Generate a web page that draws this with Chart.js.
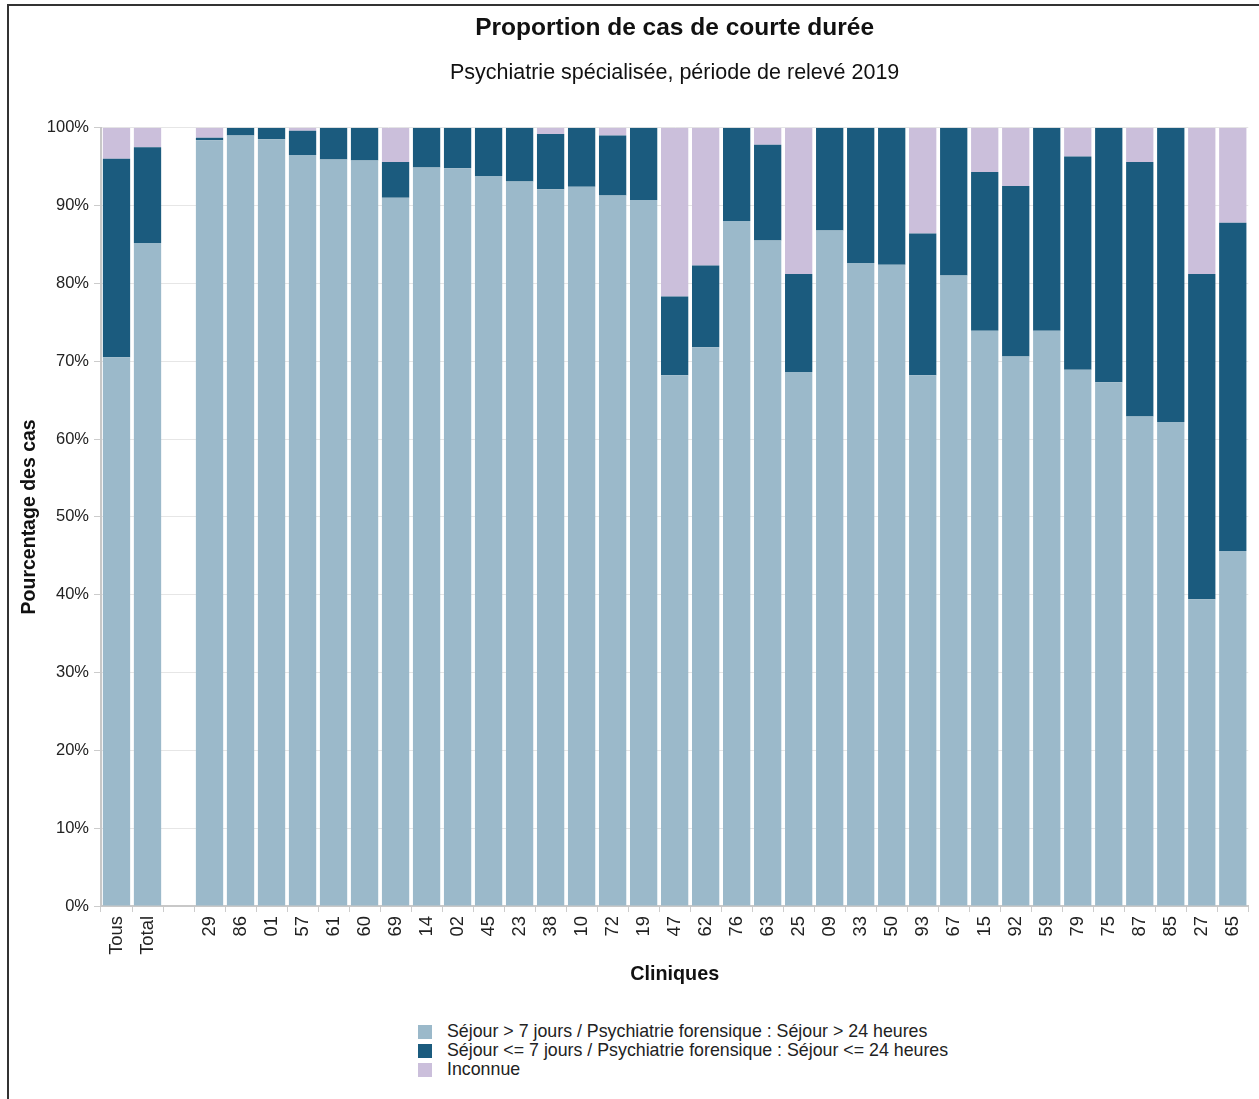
<!DOCTYPE html>
<html>
<head>
<meta charset="utf-8">
<script src="https://cdn.jsdelivr.net/npm/chart.js@4/dist/chart.umd.min.js"></script>
<style>
    body { margin: 0; background: #fff; overflow: hidden; font-family: "Liberation Sans", Arial, sans-serif; }
    #frame { position: absolute; left: 7px; top: 4px; width: 1260px; height: 1100px; border-left: 2px solid #333; border-top: 2px solid #333; }
    #wrap { position: absolute; left: 9px; top: 6px; width: 1250px; height: 988px; }
    #legend { position: absolute; left: 418px; top: 1022px; font-size: 17.8px; color: #222; }
    #legend div { display: flex; align-items: center; height: 19px; }
    #legend span.box { display: inline-block; width: 14px; height: 14px; margin-right: 15px; }
</style>
</head>
<body>
<div id="frame"></div>
<div id="wrap"><canvas id="chart"></canvas></div>
<div id="legend"></div>
<script>
const cliniques = ["Tous", "Total", "", "29", "86", "01", "57", "61", "60", "69", "14", "02", "45", "23", "38", "10", "72", "19",
    "47", "62", "76", "63", "25", "09", "33", "50", "93", "67", "15", "92", "59", "79", "75", "87", "85", "27", "65"];

// Séjour > 7 jours (bas de la barre)
const sejourLong = [70.5, 85.2, null, 98.4, 99.0, 98.5, 96.5, 95.9, 95.8, 91.0, 94.9, 94.8, 93.8, 93.1, 92.1, 92.4, 91.3, 90.7,
    68.2, 71.8, 88.0, 85.5, 68.6, 86.8, 82.6, 82.4, 68.2, 81.0, 73.9, 70.6, 73.9, 68.9, 67.3, 62.9, 62.2, 39.4, 45.6];

// Séjour <= 7 jours
const sejourCourt = [25.5, 12.3, null, 0.3, 1.0, 1.5, 3.1, 4.1, 4.2, 4.6, 5.1, 5.2, 6.2, 6.9, 7.1, 7.6, 7.7, 9.3,
    10.1, 10.5, 12.0, 12.3, 12.6, 13.2, 17.4, 17.6, 18.2, 19.0, 20.4, 21.9, 26.1, 27.4, 32.7, 32.7, 37.8, 41.8, 42.2];

// Inconnue
const inconnue = [4.0, 2.5, null, 1.3, 0, 0, 0.4, 0, 0, 4.4, 0, 0, 0, 0, 0.8, 0, 1.0, 0,
    21.7, 17.7, 0, 2.2, 18.8, 0, 0, 0, 13.6, 0, 5.7, 7.5, 0, 3.7, 0, 4.4, 0, 18.8, 12.2];

const yTicks = [0, 10, 20, 30, 40, 50, 60, 70, 80, 90, 100];

const seriesLabels = [
    "Séjour > 7 jours / Psychiatrie forensique : Séjour > 24 heures",
    "Séjour <= 7 jours / Psychiatrie forensique : Séjour <= 24 heures",
    "Inconnue"
];
const seriesColors = ["#9bb9ca", "#1b5b7e", "#cbbfdb"];

const font = "'Liberation Sans', Arial, sans-serif";

function makeDataset(i, data) {
    return {
        label: seriesLabels[i],
        data: data,
        backgroundColor: seriesColors[i],
        borderWidth: 0,
        barPercentage: 0.88,
        categoryPercentage: 1.0
    };
}

const ctx = document.getElementById('chart').getContext('2d');
new Chart(ctx, {
    type: 'bar',
    data: {
        labels: cliniques,
        datasets: [
            makeDataset(0, sejourLong),
            makeDataset(1, sejourCourt),
            makeDataset(2, inconnue)
        ]
    },
    options: {
        responsive: true,
        maintainAspectRatio: false,
        animation: false,
        layout: { padding: { right: 9 } },
        plugins: {
            legend: { display: false },
            tooltip: { enabled: false },
            title: {
                display: true,
                text: "Proportion de cas de courte durée",
                fullSize: false,
                color: '#111',
                font: { family: font, size: 24.5, weight: 'bold' },
                padding: { top: 8, bottom: 8 }
            },
            subtitle: {
                display: true,
                text: "Psychiatrie spécialisée, période de relevé 2019",
                fullSize: false,
                color: '#111',
                font: { family: font, size: 21.5 },
                padding: { top: 8.5, bottom: 42 }
            }
        },
        scales: {
            x: {
                stacked: true,
                afterFit: (scale) => { scale.height = 88; },
                grid: { drawOnChartArea: false, tickLength: 6, color: '#cccccc', offset: true },
                border: { color: '#c8c8c8', width: 2 },
                ticks: {
                    autoSkip: false,
                    minRotation: 90,
                    maxRotation: 90,
                    padding: 4,
                    color: '#222',
                    font: { family: font, size: 18.4 }
                },
                title: {
                    display: true,
                    text: "Cliniques",
                    color: '#111',
                    font: { family: font, size: 19.8, weight: 'bold' },
                    padding: { top: 4, bottom: 8 }
                }
            },
            y: {
                stacked: true,
                min: 0,
                max: 100,
                afterFit: (scale) => { scale.width = 92; },
                afterBuildTicks: (scale) => { scale.ticks = yTicks.map(v => ({ value: v })); },
                grid: { color: '#e6e6e6', tickLength: 7, tickColor: '#cccccc' },
                border: { color: '#c8c8c8', width: 2 },
                ticks: {
                    padding: 5,
                    color: '#222',
                    font: { family: font, size: 16.5 },
                    callback: (v) => v + '%'
                },
                title: {
                    display: true,
                    text: "Pourcentage des cas",
                    color: '#111',
                    font: { family: font, size: 19.5, weight: 'bold' },
                    padding: { top: 9, bottom: 0 }
                }
            }
        }
    }
});

const legend = document.getElementById('legend');
seriesLabels.forEach((label, i) => {
    const row = document.createElement('div');
    const box = document.createElement('span');
    box.className = 'box';
    box.style.background = seriesColors[i];
    row.appendChild(box);
    row.appendChild(document.createTextNode(label));
    legend.appendChild(row);
});
</script>
</body>
</html>
